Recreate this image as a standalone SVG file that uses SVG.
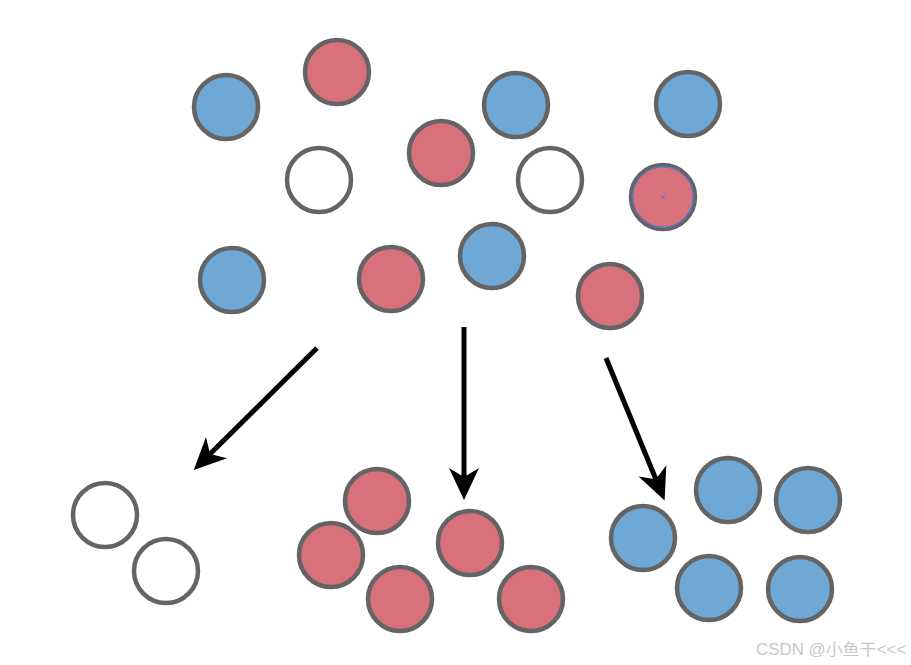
<svg xmlns="http://www.w3.org/2000/svg" width="911" height="665" viewBox="0 0 911 665">
<style>
.c{stroke:#646464;stroke-width:4.5}
.b{fill:#6fa8d5}
.r{fill:#d9717c}
.w{fill:#ffffff}
.a{stroke:#000;stroke-width:5;fill:none}
.wm{font-family:"Liberation Sans","Noto Sans CJK SC",sans-serif;font-size:16px;fill:#c8c8c8}
</style>
<defs>
<marker id="ah" markerUnits="userSpaceOnUse" markerWidth="60" markerHeight="60" refX="0" refY="0" orient="auto" overflow="visible" viewBox="-30 -30 60 60">
<path d="M20,0 L-12,-15 L-3,0 L-12,15 Z" fill="#000"/>
</marker>
</defs>
<rect width="911" height="665" fill="#fff"/>
<g id="top">
<g id="n1"><circle class="c b" cx="226" cy="107" r="32"/></g>
<g id="n2"><circle class="c r" cx="337" cy="72" r="32"/></g>
<g id="n3"><circle class="c b" cx="516" cy="105" r="32"/></g>
<g id="n4"><circle class="c b" cx="688" cy="104" r="32"/></g>
<g id="n5"><circle class="c w" cx="319" cy="180" r="32"/></g>
<g id="n6"><circle class="c r" cx="441" cy="153" r="32"/></g>
<g id="n7"><circle class="c w" cx="550" cy="180" r="32"/></g>
<g id="n8"><circle class="c r" cx="663" cy="197" r="32"/><circle cx="663" cy="197" r="30.5" fill="none" stroke="#4a7ff0" stroke-width="1"/><path d="M661,195 L665,199 M665,195 L661,199" stroke="#4a7ff0" stroke-width="1"/></g>
<g id="n9"><circle class="c b" cx="232" cy="280" r="32"/></g>
<g id="n10"><circle class="c r" cx="391" cy="279" r="32"/></g>
<g id="n11"><circle class="c b" cx="492" cy="256" r="32"/></g>
<g id="n12"><circle class="c r" cx="610" cy="296" r="32"/></g>
</g>
<g id="bottom">
<g id="w1"><circle class="c w" cx="105" cy="515" r="32"/></g>
<g id="w2"><circle class="c w" cx="166" cy="571" r="32"/></g>
<g id="r1"><circle class="c r" cx="377" cy="501" r="32"/></g>
<g id="r2"><circle class="c r" cx="331" cy="555" r="32"/></g>
<g id="r3"><circle class="c r" cx="470" cy="543" r="32"/></g>
<g id="r4"><circle class="c r" cx="400" cy="599" r="32"/></g>
<g id="r5"><circle class="c r" cx="531" cy="599" r="32"/></g>
<g id="b1"><circle class="c b" cx="728" cy="490" r="32"/></g>
<g id="b2"><circle class="c b" cx="808" cy="500" r="32"/></g>
<g id="b3"><circle class="c b" cx="643" cy="538" r="32"/></g>
<g id="b4"><circle class="c b" cx="709" cy="588" r="32"/></g>
<g id="b5"><circle class="c b" cx="800" cy="589" r="32"/></g>
</g>
<g id="connectors">
<line class="a" x1="317" y1="348" x2="208" y2="456" marker-end="url(#ah)"/>
<line class="a" x1="464" y1="327" x2="464" y2="480" marker-end="url(#ah)"/>
<line class="a" x1="606" y1="358" x2="657" y2="482" marker-end="url(#ah)"/>
</g>
<text class="wm" x="756" y="655" textLength="150" lengthAdjust="spacingAndGlyphs">CSDN @小鱼干&lt;&lt;&lt;</text>
</svg>
